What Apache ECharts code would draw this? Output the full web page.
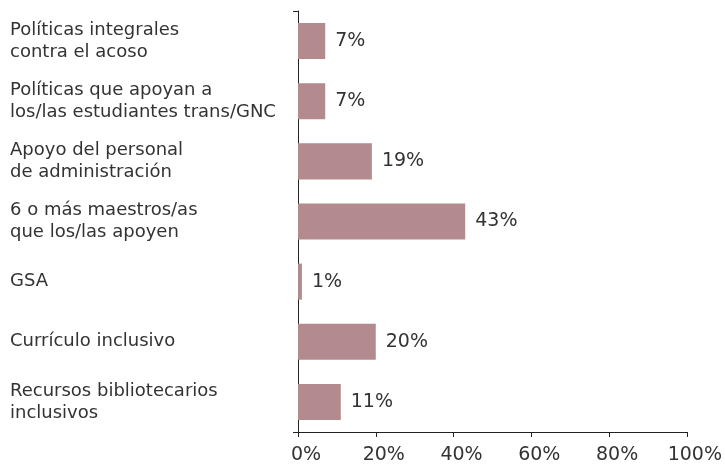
<!DOCTYPE html>
<html>
<head>
<meta charset="utf-8">
<script src="https://cdn.jsdelivr.net/npm/echarts@6/dist/echarts.min.js"></script>
<style>
  html, body { margin: 0; padding: 0; background: #fff; }
  #chart { width: 725px; height: 466px; }
</style>
</head>
<body>
<div id="chart"></div>
<script>
// categorias (de arriba hacia abajo)
const categories = [
  'Políticas integrales\ncontra el acoso',
  'Políticas que apoyan a\nlos/las estudiantes trans/GNC',
  'Apoyo del personal\nde administración',
  '6 o más maestros/as\nque los/las apoyen',
  'GSA',
  'Currículo inclusivo',
  'Recursos bibliotecarios\ninclusivos'
];
const values = [7, 7, 19, 43, 1, 20, 11];
const ticks = [0, 20, 40, 60, 80, 100];

const font = 'DejaVu Sans, sans-serif';
const chart = echarts.init(document.getElementById('chart'));

chart.setOption({
  animation: false,
  grid: { left: 298, right: 37, top: 11, bottom: 34 },
  xAxis: {
    type: 'value',
    min: ticks[0],
    max: ticks[ticks.length - 1],
    interval: 20,
    splitLine: { show: false },
    axisLine: { show: true, lineStyle: { color: '#222', width: 1 } },
    axisTick: { show: true, length: 5, lineStyle: { color: '#222' } },
    axisLabel: {
      formatter: '{value}%',
      fontSize: 19,
      color: '#333',
      fontFamily: font,
      margin: 14,
      padding: [0, 0, 0, 16]
    }
  },
  yAxis: {
    type: 'category',
    inverse: true,
    data: categories,
    axisLine: { show: true, lineStyle: { color: '#222', width: 1 } },
    axisTick: { show: true, length: 5, interval: (i) => i === 0, lineStyle: { color: '#222' } },
    axisLabel: {
      align: 'left',
      margin: 288,
      fontSize: 18,
      lineHeight: 22,
      color: '#333',
      fontFamily: font
    }
  },
  series: [{
    type: 'bar',
    data: values,
    barCategoryGap: '40%',
    itemStyle: { color: '#b38a8d' },
    label: {
      show: true,
      position: 'right',
      distance: 10,
      formatter: '{c}%',
      fontSize: 19,
      color: '#333',
      fontFamily: font
    }
  }]
});
</script>
</body>
</html>
